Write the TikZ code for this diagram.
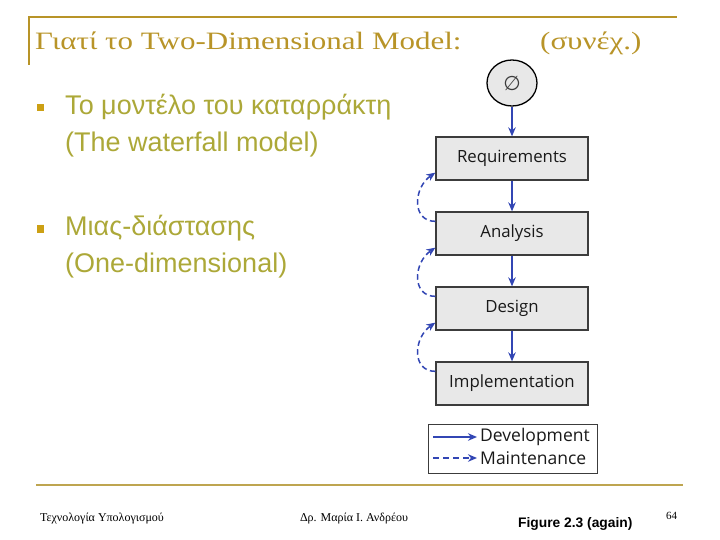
\documentclass[tikz,border=0pt]{standalone}
\usepackage{fontspec}
\setmainfont{Liberation Serif}
\newfontfamily\arialf{Liberation Sans}
\newfontfamily\segoe{Open Sans}
\newfontfamily\dejavu{DejaVu Sans}
\usetikzlibrary{arrows.meta,calc,shapes.geometric}
\definecolor{titlegold}{RGB}{184,148,40}
\definecolor{textolive}{RGB}{172,168,56}
\definecolor{bulletgold}{RGB}{204,160,20}
\definecolor{linegold}{RGB}{190,165,80}
\definecolor{arrblue}{RGB}{50,70,180}
\definecolor{boxfill}{RGB}{232,232,232}
\definecolor{boxline}{RGB}{60,60,60}
\definecolor{boxtext}{RGB}{25,25,25}
\begin{document}
\begin{tikzpicture}[x=1pt,y=-1pt,
  phase/.style={draw=boxline, line width=1.3pt, fill=boxfill, minimum width=152pt, minimum height=43pt, inner sep=0pt, text=boxtext, font=\segoe\fontsize{16.8}{18}\selectfont},
  dev/.style={draw=arrblue, line width=1.5pt, -{Stealth[length=9pt,width=7.5pt]}},
  mnt/.style={dev, dash pattern=on 5.5pt off 3.5pt},
  titletext/.style={anchor=base west, inner sep=0pt, text=titlegold, font=\fontsize{25}{27}\selectfont},
  bullettext/.style={anchor=base west, inner sep=0pt, text=textolive, font=\arialf\fontsize{27}{30}\selectfont},
  bulletsq/.style={fill=bulletgold, minimum size=7pt, inner sep=0pt},
  foot/.style={anchor=base, inner sep=0pt, font=\fontsize{12}{13}\selectfont},
  legtext/.style={anchor=west, inner sep=0pt, text=boxtext, font=\segoe\fontsize{17.5}{18}\selectfont}
]
\useasboundingbox (0,0) rectangle (720,540);
% title frame lines
\draw[titlegold, line width=2pt] (29,65) -- (29,17) -- (677,17);
\node[titletext] (title) at (35,50) {\scalebox{1.24}[1]{Γιατί το Two-Dimensional Model:}};
\node[titletext] (cont) at (540,50) {\scalebox{1.24}[1]{(συνέχ.)}};
% bullets
\node[bulletsq] (b1) at (40.5,108) {};
\node[bullettext] (t1a) at (65,115) {Το μοντέλο του καταρράκτη};
\node[bullettext] (t1b) at (65,152) {(The waterfall model)};
\node[bulletsq] (b2) at (40.5,229) {};
\node[bullettext] (t2a) at (65,236) {Μιας-διάστασης};
\node[bullettext] (t2b) at (65,272) {(One-dimensional)};
% diagram
\node[ellipse, draw=black, line width=1.3pt, fill=boxfill, minimum width=50pt, minimum height=46pt, inner sep=0pt, text=boxline, font=\dejavu\fontsize{20}{20}\selectfont] (start) at (512,83) {∅};
\node[phase] (req) at (512,158.5) {Requirements};
\node[phase] (ana) at (512,233.5) {Analysis};
\node[phase] (des) at (512,308.5) {Design};
\node[phase] (imp) at (512,383.5) {Implementation};
\draw[dev] (start) -- (req);
\draw[dev] (req) -- (ana);
\draw[dev] (ana) -- (des);
\draw[dev] (des) -- (imp);
\draw[mnt] ([yshift=-10pt]ana.north west) .. controls +(-24,0) and +(-22,15) .. ([yshift=8pt]req.south west);
\draw[mnt] ([yshift=-10pt]des.north west) .. controls +(-24,0) and +(-22,15) .. ([yshift=8pt]ana.south west);
\draw[mnt] ([yshift=-10pt]imp.north west) .. controls +(-24,0) and +(-22,15) .. ([yshift=8pt]des.south west);
% legend
\node[draw=boxline, line width=1pt, minimum width=169pt, minimum height=49pt, inner sep=0pt] (leg) at (512.5,448.5) {};
\coordinate (l1s) at (433,437);
\coordinate (l1e) at (477,437);
\coordinate (l2s) at (433,458);
\coordinate (l2e) at (477,458);
\draw[dev] (l1s) -- (l1e);
\draw[mnt, dash pattern=on 6pt off 4pt] (l2s) -- (l2e);
\node[legtext] (ldev) at (480,437) {Development};
\node[legtext] (lmnt) at (480,458) {Maintenance};
% footer
\draw[linegold, line width=2.5pt] (36,485) -- (683,485);
\node[foot] (f1) at (102,521) {Τεχνολογία Υπολογισμού};
\node[foot] (f2) at (354,521) {Δρ. Μαρία Ι. Ανδρέου};
\node[anchor=base west, inner sep=0pt, font=\arialf\bfseries\fontsize{13.8}{15}\selectfont] (fig) at (518,527) {Figure 2.3 (again)};
\node[anchor=base west, inner sep=0pt, font=\fontsize{11}{12}\selectfont] (pg) at (666,519) {64};
\end{tikzpicture}
\end{document}
